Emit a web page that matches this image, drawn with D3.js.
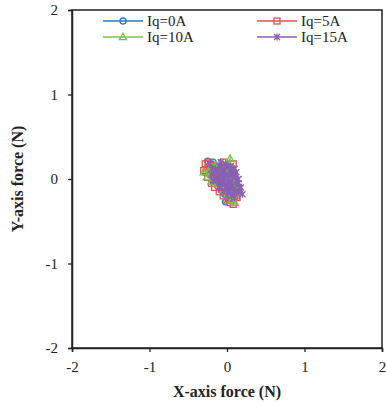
<!DOCTYPE html>
<html>
<head>
<meta charset="utf-8">
<script src="https://d3js.org/d3.v7.min.js"></script>
<style>
  body { margin: 0; background: #fff; }
  svg text { font-family: "Liberation Serif", "Times New Roman", serif; fill: #222; }
</style>
</head>
<body>
<div id="chart"></div>
<script>
"use strict"

var ticks = [-2, -1, 0, 1, 2];
var seriesNames = ["Iq=0A", "Iq=5A", "Iq=10A", "Iq=15A"];

var x0 = [-0.25,-0.2,-0.22,-0.15,-0.18,-0.1,-0.12,-0.05,-0.08,0.0,-0.03,0.05,0.02,0.08,0.03,0.1,0.05,0.12,0.06,0.0,0.03,-0.02,0.02,0.0,-0.05,-0.1,-0.15,-0.2,-0.22,-0.18];
var y0 = [0.21,0.15,0.05,0.1,-0.02,0.03,-0.08,0.0,-0.12,-0.05,-0.18,-0.1,-0.22,-0.15,-0.25,-0.2,-0.05,-0.1,0.05,0.1,-0.1,-0.27,-0.22,-0.15,0.0,0.08,0.12,0.18,0.1,0.2];

var x5 = [-0.28,-0.3,-0.22,-0.25,-0.15,-0.2,-0.1,-0.16,-0.05,-0.1,0.0,-0.05,0.05,0.0,0.1,0.04,0.13,0.08,0.15,0.1,0.12,0.05,0.08,0.0,-0.05,-0.12,-0.18,-0.24,-0.27,-0.2,-0.1,0.02];
var y5 = [0.18,0.1,0.14,0.02,0.08,-0.05,0.0,-0.1,0.05,-0.15,-0.08,-0.2,-0.12,-0.25,-0.18,-0.28,-0.22,-0.3,-0.1,0.0,-0.2,0.1,0.18,0.12,0.2,0.15,0.05,0.2,0.08,0.16,0.1,-0.05];

var x10 = [-0.3,-0.22,-0.26,-0.15,-0.2,-0.08,-0.12,0.0,0.04,0.06,0.0,0.08,-0.02,0.1,0.03,0.12,0.06,0.15,0.1,0.05,0.0,-0.05,0.02,-0.08,-0.15,-0.2,-0.1,0.0,0.05,-0.05];
var y10 = [0.08,0.12,0.02,0.15,-0.03,0.1,-0.06,0.15,0.24,0.1,0.02,0.12,-0.1,-0.02,-0.18,-0.1,-0.25,-0.15,-0.28,-0.12,-0.2,-0.08,0.05,0.0,0.05,0.15,0.18,0.08,-0.05,-0.15];

var x15 = [-0.22,-0.15,-0.2,-0.1,-0.18,-0.05,-0.12,0.0,-0.08,0.05,-0.02,0.1,0.02,0.15,0.06,0.18,0.1,0.2,0.12,0.15,0.05,0.1,0.0,0.08,-0.05,0.03,-0.1,-0.02,-0.15,-0.05,-0.2,-0.1,-0.15,0.0,0.08,0.15,0.1,0.02,-0.05,-0.12,0.05,0.12,0.0,-0.08];
var y15 = [0.18,0.12,0.05,0.15,-0.02,0.1,0.0,0.15,-0.05,0.08,-0.1,0.05,-0.15,0.0,-0.2,-0.1,-0.15,-0.18,0.08,-0.05,0.12,-0.22,-0.12,0.02,0.05,-0.08,-0.02,0.18,0.1,-0.15,0.12,-0.1,0.02,0.05,-0.12,-0.15,0.12,0.0,-0.05,0.08,0.15,-0.02,-0.2,0.2];

var colors = ["#1f7fc4", "#e8504f", "#7cc04c", "#8a5fb4"];
var markers = ["circle", "square", "triangle", "star"];

var series = [
  { name: seriesNames[0], xs: x0, ys: y0 },
  { name: seriesNames[1], xs: x5, ys: y5 },
  { name: seriesNames[2], xs: x10, ys: y10 },
  { name: seriesNames[3], xs: x15, ys: y15 }
];

var W = 387, H = 405;
var margin = { top: 10, right: 5, bottom: 57, left: 72 };
var w = W - margin.left - margin.right, h = H - margin.top - margin.bottom;

var svg = d3.select("#chart").append("svg").attr("width", W).attr("height", H);
var g = svg.append("g").attr("transform", "translate(" + margin.left + "," + margin.top + ")");

var x = d3.scaleLinear().domain([-2, 2]).range([0, w]);
var y = d3.scaleLinear().domain([-2, 2]).range([h, 0]);

// frame
g.append("rect").attr("width", w).attr("height", h)
  .attr("fill", "none").attr("stroke", "#222").attr("stroke-width", 1.5);

var xa = g.append("g").attr("transform", "translate(0," + h + ")")
  .call(d3.axisBottom(x).tickValues(ticks).tickSize(4).tickPadding(9).tickFormat(d => String(d)));
var ya = g.append("g")
  .call(d3.axisLeft(y).tickValues(ticks).tickSize(4).tickPadding(10).tickFormat(d => String(d)));
[xa, ya].forEach(function(a) {
  a.select(".domain").attr("stroke", "#222").attr("stroke-width", 1.5);
  a.selectAll(".tick line").attr("stroke", "#222").attr("stroke-width", 1.3);
  a.selectAll("text").style("font-size", "15px").attr("fill", "#222");
});

function drawMarker(sel, type, color) {
  if (type === "circle") {
    sel.append("circle").attr("r", 3).attr("fill", "none").attr("stroke", color).attr("stroke-width", 1.3);
  } else if (type === "square") {
    sel.append("rect").attr("x", -3).attr("y", -3).attr("width", 6).attr("height", 6)
      .attr("fill", "none").attr("stroke", color).attr("stroke-width", 1.3);
  } else if (type === "triangle") {
    sel.append("path").attr("d", "M0,-3.8L3.6,2.6L-3.6,2.6Z")
      .attr("fill", "none").attr("stroke", color).attr("stroke-width", 1.3);
  } else {
    sel.append("path").attr("d", "M-3,-3L3,3M-3,3L3,-3M0,-3.6L0,3.6")
      .attr("fill", "none").attr("stroke", color).attr("stroke-width", 1.3);
  }
}

var line = d3.line().x(d => x(d[0])).y(d => y(d[1]));

series.forEach(function(s, i) {
  var pts = s.xs.map((v, k) => [v, s.ys[k]]);
  g.append("path").datum(pts).attr("d", line)
    .attr("fill", "none").attr("stroke", colors[i]).attr("stroke-width", 1.4);
  g.selectAll(".m" + i).data(pts).enter().append("g")
    .attr("class", "m" + i)
    .attr("transform", d => "translate(" + x(d[0]) + "," + y(d[1]) + ")")
    .each(function() { drawMarker(d3.select(this), markers[i], colors[i]); });
});

// legend
var legPos = [[103, 21], [257, 21], [103, 37], [257, 37]];
series.forEach(function(s, i) {
  var lg = svg.append("g").attr("transform", "translate(" + legPos[i][0] + "," + legPos[i][1] + ")");
  lg.append("line").attr("x1", 0).attr("x2", 40).attr("stroke", colors[i]).attr("stroke-width", 1.5);
  var mk = lg.append("g").attr("transform", "translate(20,0)");
  drawMarker(mk, markers[i], colors[i]);
  lg.append("text").attr("x", 44).attr("y", 5).style("font-size", "15px").text(s.name);
});

// axis titles
svg.append("text").attr("x", margin.left + w / 2).attr("y", 397)
  .attr("text-anchor", "middle").style("font-size", "16px").style("font-weight", "bold")
  .text("X-axis force (N)");
svg.append("text").attr("transform", "translate(23," + (margin.top + h / 2) + ") rotate(-90)")
  .attr("text-anchor", "middle").style("font-size", "16px").style("font-weight", "bold")
  .text("Y-axis force (N)");
</script>
</body>
</html>
